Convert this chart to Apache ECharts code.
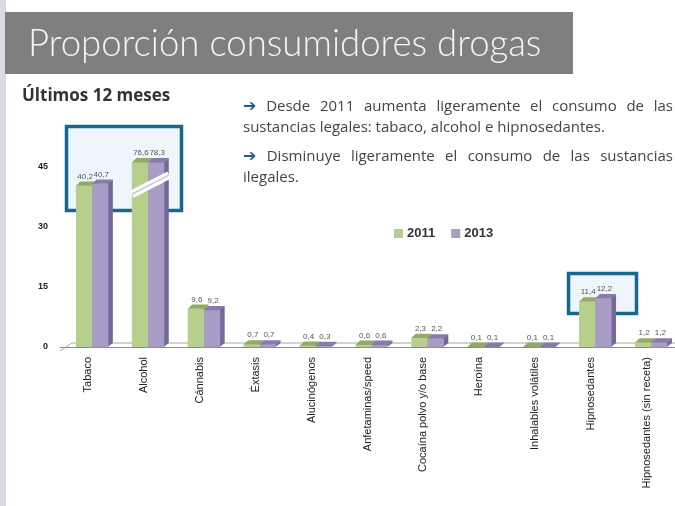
<!DOCTYPE html>
<html>
<head>
<meta charset="UTF-8">
<title>Proporción consumidores drogas</title>
<script src="https://cdn.jsdelivr.net/npm/echarts@6.0.0/dist/echarts.min.js"></script>
<style>
html, body { margin: 0; padding: 0; background: #fff; }
#grafico { width: 675px; height: 506px; }
</style>
</head>
<body>
<div id="grafico"></div>
<script type="text/javascript">
// datos (% ultimos 12 meses)
var categorias = ['Tabaco', 'Alcohol', 'Cánnabis', 'Éxtasis', 'Alucinógenos', 'Anfetaminas/speed',
	'Cocaína polvo y/o base', 'Heroína', 'Inhalables volátiles', 'Hipnosedantes', 'Hipnosedantes (sin receta)'];
var anios = ['2011', '2013'];
var valores2011 = [40.2, 76.6, 9.6, 0.7, 0.4, 0.6, 2.3, 0.1, 0.1, 11.4, 1.2];
var valores2013 = [40.7, 78.3, 9.2, 0.7, 0.3, 0.6, 2.2, 0.1, 0.1, 12.2, 1.2];
var marcasY = [0, 15, 30, 45];
var corteEje = 46;          // las barras de alcohol se cortan aqui
var tramoCorte = [38, 42.8];  // donde va la marca de corte

var colores = {
	'2011': { frente: '#b7cf8d', arriba: '#93aa67', lado: '#8ea262' },
	'2013': { frente: '#a99dc8', arriba: '#887bab', lado: '#74689a' }
};

var medidor = document.createElement('canvas').getContext('2d');
function ajustar(texto, peso, familia, ancho) {
	medidor.font = peso + ' 20px ' + familia;
	return 20 * ancho / medidor.measureText(texto).width;
}
function numero(v) {
	return v.toFixed(1).replace('.', ',');
}

var myChart = echarts.init(document.getElementById('grafico'));

// barras en "3D" como en la diapositiva
function barra3D(anio, desplaz) {
	var c = colores[anio];
	return function (params, api) {
		var i = api.value(0);
		var real = api.value(1);
		var v = Math.min(real, corteEje);
		var banda = api.size([1, 0])[0];
		var x0 = api.coord([i, 0])[0] - banda / 2;
		var base = api.coord([i, 0])[1];
		var tope = api.coord([i, v])[1];
		var ancho = banda * 0.29;
		var x = x0 + banda * desplaz;
		var dx = 4.5, dy = 4;
		var xl = x + ancho - 0.6;
		return {
			type: 'group',
			children: [
				{ type: 'polygon', shape: { points: [[xl, tope], [x + ancho + dx, tope - dy], [x + ancho + dx, base - dy], [xl, base]] }, style: { fill: c.lado } },
				{ type: 'rect', shape: { x: x, y: tope, width: ancho, height: base - tope }, style: { fill: c.frente } },
				{ type: 'polygon', shape: { points: [[x, tope + 0.3], [x + dx, tope - dy], [x + ancho + dx, tope - dy], [x + ancho, tope + 0.3]] }, style: { fill: c.arriba } },
				{ type: 'text', x: x + ancho / 2 + 1, y: tope - dy - 1,
					style: { text: numero(real), font: '8px "Liberation Sans"', fill: '#555',
						textAlign: 'center', textVerticalAlign: 'bottom', align: 'center', verticalAlign: 'bottom' } }
			]
		};
	};
}

function marcaCorte(params, api) {
	var i = api.value(0);
	var banda = api.size([1, 0])[0];
	var x0 = api.coord([i, 0])[0] - banda / 2;
	var a = [x0 + banda * 0.285, api.coord([i, tramoCorte[0]])[1]];
	var b = [x0 + banda * 0.865 + 5, api.coord([i, tramoCorte[1]])[1]];
	return {
		type: 'group',
		children: [
			{ type: 'line', shape: { x1: a[0], y1: a[1], x2: b[0], y2: b[1] }, style: { stroke: '#fff', lineWidth: 8 } },
			{ type: 'line', shape: { x1: a[0], y1: a[1], x2: b[0], y2: b[1] }, style: { stroke: '#c9c9c9', lineWidth: 1.5 } }
		]
	};
}

// textos de la diapositiva
var fuenteNota = '"Open Sans"';
var tamNota = ajustar('sustancias legales: tabaco, alcohol e hipnosedantes.', '400', fuenteNota, 362);
var lineasNota = [
	{ palabras: ['➔', 'Desde', '2011', 'aumenta', 'ligeramente', 'el', 'consumo', 'de', 'las'], y: 107, justificar: true },
	{ palabras: ['sustancias', 'legales:', 'tabaco,', 'alcohol', 'e', 'hipnosedantes.'], y: 128, justificar: false },
	{ palabras: ['➔', 'Disminuye', 'ligeramente', 'el', 'consumo', 'de', 'las', 'sustancias'], y: 157, justificar: true },
	{ palabras: ['ilegales.'], y: 178, justificar: false }
];

var elementos = [];
// borde izquierdo de la diapositiva
elementos.push({ type: 'rect', z: 0, shape: { x: 0, y: 0, width: 6, height: 506 }, style: { fill: '#d9dbe4' } });
// banda de titulo
elementos.push({ type: 'rect', z: 0, shape: { x: 5, y: 12, width: 568, height: 62 }, style: { fill: '#7f7f7f' } });
var titulo = 'Proporción consumidores drogas';
elementos.push({ type: 'text', z: 1, x: 28, y: 44, style: {
	text: titulo, font: '300 ' + ajustar(titulo, '300', 'Lato', 514).toFixed(1) + 'px Lato', fill: '#f5f5f5',
	textVerticalAlign: 'middle', verticalAlign: 'middle' } });
var subtitulo = 'Últimos 12 meses';
elementos.push({ type: 'text', z: 1, x: 22, y: 96, style: {
	text: subtitulo, font: 'bold ' + ajustar(subtitulo, 'bold', '"Open Sans"', 148).toFixed(1) + 'px "Open Sans"', fill: '#333',
	textVerticalAlign: 'middle', verticalAlign: 'middle' } });

lineasNota.forEach(function (linea) {
	var fuente = tamNota.toFixed(1) + 'px ' + fuenteNota;
	var fuenteFlecha = 'bold ' + (tamNota + 1).toFixed(1) + 'px "DejaVu Sans"';
	var anchos = linea.palabras.map(function (p) {
		medidor.font = p === '➔' ? fuenteFlecha : fuente;
		return medidor.measureText(p).width;
	});
	medidor.font = fuente;
	var total = anchos.reduce(function (s, w) { return s + w; }, 0);
	var hueco = linea.justificar ? (673 - 243 - total) / (linea.palabras.length - 1) : medidor.measureText(' ').width;
	var x = 243;
	linea.palabras.forEach(function (p, k) {
		var flecha = p === '➔';
		elementos.push({ type: 'text', z: 1, x: x, y: linea.y, style: {
			text: p, font: flecha ? fuenteFlecha : fuente, fill: flecha ? '#1f5c8c' : '#444',
			textVerticalAlign: 'middle', verticalAlign: 'middle' } });
		x += anchos[k] + hueco;
	});
});

// recuadros resaltados
elementos.push({ type: 'rect', z: 1, shape: { x: 66.5, y: 126.5, width: 115, height: 84 }, style: { fill: '#eef6fb', stroke: '#17688f', lineWidth: 3.5 } });
elementos.push({ type: 'rect', z: 1, shape: { x: 568.5, y: 273.5, width: 68, height: 40 }, style: { fill: '#eef6fb', stroke: '#17688f', lineWidth: 3.5 } });
// suelo del grafico
elementos.push({ type: 'polyline', z: 1, shape: { points: [[60, 351], [72, 343], [675, 343]] }, style: { stroke: '#a8a8a8', lineWidth: 1, fill: null } });

var option = {
	backgroundColor: '#fff',
	animation: false,
	graphic: { elements: elementos },
	legend: {
		data: anios,
		left: 389, top: 222,
		icon: 'rect', itemWidth: 9, itemHeight: 9, itemGap: 16,
		textStyle: { fontFamily: '"Liberation Sans"', fontWeight: 'bold', fontSize: 13, color: '#333', padding: [0, 0, 0, -1] }
	},
	grid: { left: 60, right: 0, top: 146, bottom: 159 },
	xAxis: {
		type: 'category',
		data: categorias,
		offset: 4,
		axisLine: { lineStyle: { color: '#8c8c8c' } },
		axisTick: { length: 4, lineStyle: { color: '#8c8c8c' } },
		axisLabel: { rotate: 90, interval: 0, margin: 6, fontFamily: '"Liberation Sans"', fontSize: 11, color: '#222' }
	},
	yAxis: {
		type: 'value',
		min: 0, max: 50, interval: 5,
		axisLine: { show: false }, axisTick: { show: false }, splitLine: { show: false },
		axisLabel: {
			margin: 12, fontFamily: '"Liberation Sans"', fontWeight: 'bold', fontSize: 9, color: '#222',
			formatter: function (v) { return marcasY.indexOf(v) >= 0 ? String(v) : ''; }
		}
	},
	series: [
		{ name: '2011', type: 'custom', z: 2, itemStyle: { color: colores['2011'].frente },
			data: valores2011.map(function (v, i) { return [i, v]; }), renderItem: barra3D('2011', 0.285) },
		{ name: '2013', type: 'custom', z: 3, itemStyle: { color: colores['2013'].frente },
			data: valores2013.map(function (v, i) { return [i, v]; }), renderItem: barra3D('2013', 0.575) },
		{ name: 'corte', type: 'custom', z: 4, silent: true, data: [[1]], renderItem: marcaCorte }
	]
};
myChart.setOption(option);
</script>
</body>
</html>
